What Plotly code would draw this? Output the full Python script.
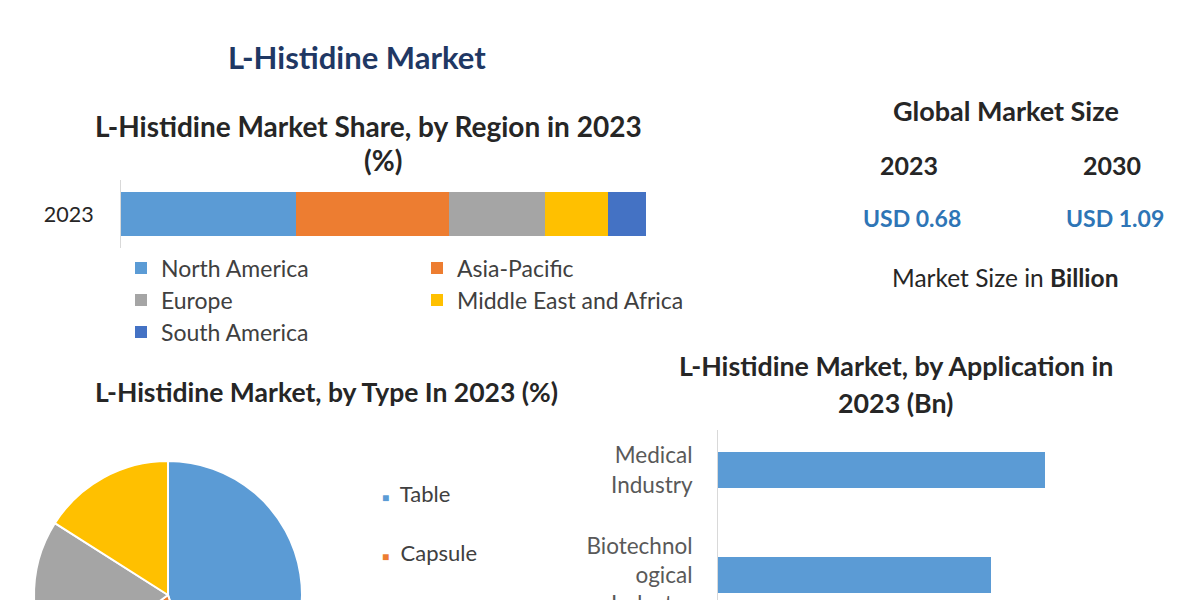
import plotly.graph_objects as go

# ---------------- data ----------------
regions = ["North America", "Asia-Pacific", "Europe", "Middle East and Africa", "South America"]
region_share = [33.3, 29.2, 18.2, 12.0, 7.3]
region_year = ["2023"]

types = ["Table", "Capsule", "Powder", "Others"]
type_share = [45, 20, 19, 16]

applications = ["Medical<br>Industry", "Biotechnol<br>ogical<br>Industry"]
application_value = [0.30, 0.25]

market_years = ["2023", "2030"]
market_size = [0.68, 1.09]

# ---------------- styles ----------------
region_colors = ["#5b9bd5", "#ed7d31", "#a5a5a5", "#ffc000", "#4472c4"]
type_colors = ["#5b9bd5", "#ed7d31", "#a5a5a5", "#ffc000"]
FONT = "Lato"
W, H = 1200, 740


def px(x):
    return x / W


def py(y):
    return 1 - y / H


fig = go.Figure()

# stacked region bar
legend_rows = ["legend", "legend", "legend2", "legend2", "legend3"]
for name, val, col, lg in zip(regions, region_share, region_colors, legend_rows):
    fig.add_trace(go.Bar(
        y=region_year, x=[val], name=name, orientation="h",
        marker=dict(color=col, line=dict(width=0)),
        xaxis="x", yaxis="y", legend=lg, hoverinfo="name+x",
    ))

# type pie
fig.add_trace(go.Pie(
    labels=types, values=type_share, sort=False, direction="clockwise", rotation=0,
    marker=dict(colors=type_colors, line=dict(color="white", width=2)),
    textinfo="none", showlegend=False,
    domain=dict(x=[px(34), px(302)], y=[py(729), py(461)]),
))

# application bars
fig.add_trace(go.Bar(
    y=applications, x=application_value, orientation="h", width=0.343,
    marker=dict(color="#5b9bd5", line=dict(width=0)),
    xaxis="x2", yaxis="y2", showlegend=False,
))

legend_common = dict(
    orientation="h", xanchor="left", yanchor="middle",
    entrywidth=251, entrywidthmode="pixels",
    font=dict(family=FONT, size=23, color="#404040"),
    bgcolor="rgba(0,0,0,0)", borderwidth=0, traceorder="normal",
)

annotations = []


def text(x, y, t, size, color="#262626", bold=False):
    if bold:
        t = "<b>" + t + "</b>"
    annotations.append(dict(
        x=px(x), y=py(y), xref="paper", yref="paper", text=t, showarrow=False,
        xanchor="center", yanchor="middle",
        font=dict(family=FONT, size=size, color=color),
    ))


text(357, 57, "L-Histidine Market", 31, "#1f3864", True)
text(368, 126, "L-Histidine Market Share, by Region in 2023", 28, bold=True)
text(383, 160, "(%)", 28, bold=True)
text(1006, 110, "Global Market Size", 27, bold=True)
for cx, yr, val in zip([909, 1112], market_years, market_size):
    text(cx, 165, yr, 25, bold=True)
    text(cx + 3, 218, f"USD {val:.2f}", 23, "#2e75b6", True)
text(1005, 278, "Market Size in <b>Billion</b>", 24.5, "#262626")
text(326, 392, "L-Histidine Market, by Type In 2023 (%)", 26.5, bold=True)
text(896, 366, "L-Histidine Market, by Application in", 26.8, bold=True)
text(895, 403, "2023 (Bn)", 26.8, bold=True)

for i, (name, col) in enumerate(zip(types, type_colors)):
    annotations.append(dict(
        x=px(380), y=py(493 + 59 * i), xref="paper", yref="paper",
        text=f'<span style="color:{col};font-size:12px">■</span>  {name}',
        showarrow=False, xanchor="left", yanchor="middle",
        font=dict(family=FONT, size=22, color="#404040"),
    ))

fig.update_layout(
    width=W, height=H,
    margin=dict(l=0, r=0, t=0, b=0),
    paper_bgcolor="white", plot_bgcolor="white",
    barmode="stack",
    bargap=0.34,
    font=dict(family=FONT, color="#404040"),
    xaxis=dict(domain=[px(121), px(646)], range=[0, 100], visible=False, anchor="y", fixedrange=True),
    yaxis=dict(domain=[py(248), py(180)], anchor="x", showline=True, linecolor="#d9d9d9",
               ticks="", ticklabelstandoff=22, tickfont=dict(family=FONT, size=21.5, color="#262626"),
               showgrid=False, fixedrange=True),
    xaxis2=dict(domain=[px(718), px(1154)], range=[0, 0.4], visible=False, anchor="y2", fixedrange=True),
    yaxis2=dict(domain=[py(700), py(430)], anchor="x2", showline=True, linecolor="#d9d9d9",
                range=[(700 - 470) / 105, -40 / 105], ticks="", ticklabelstandoff=20,
                tickfont=dict(family=FONT, size=22.5, color="#595959"), showgrid=False, fixedrange=True),
    legend=dict(x=px(121), y=py(268), **legend_common),
    legend2=dict(x=px(121), y=py(300), **legend_common),
    legend3=dict(x=px(121), y=py(332), **legend_common),
    annotations=annotations,
    showlegend=True,
)

fig.write_html("out.html", post_script="document.body.style.overflow='hidden';")
